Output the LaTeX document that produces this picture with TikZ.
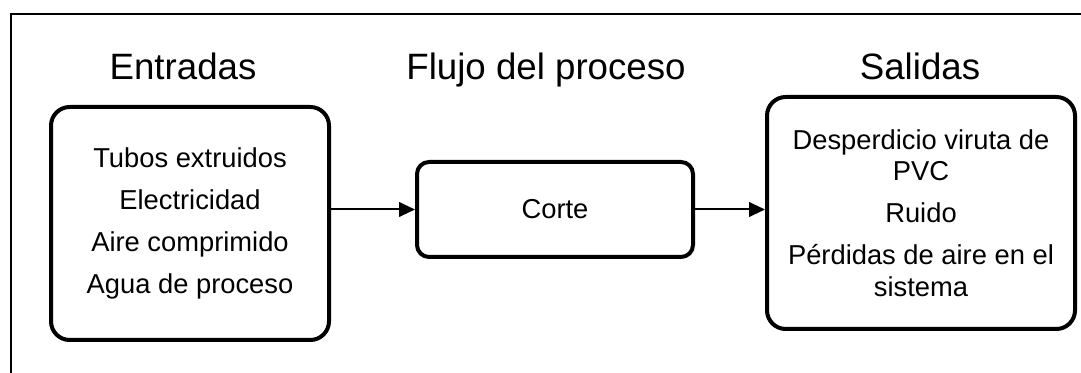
\documentclass[tikz,border=0pt]{standalone}
\usepackage{fontspec}
\setmainfont{Liberation Sans}
\usetikzlibrary{arrows.meta}

\tikzset{
  bigbox/.style={draw, line width=3pt, rounded corners=14pt, align=center,
    font=\fontsize{20.5}{23.6}\selectfont, inner sep=0pt},
  title/.style={anchor=base, font=\fontsize{27.5}{30}\selectfont},
  arr/.style={line width=1.5pt, -{Triangle[length=12pt,width=11pt]}}
}

\begin{document}
\begin{tikzpicture}[x=0.75pt, y=-0.75pt]
    \useasboundingbox (0,0) rectangle (1081,373);

    % Frame
    \draw[line width=1pt] (11,373) -- (11,14) -- (1081,14);

    % Titles
    \node[title] (t1) at (183,80) {Entradas};
    \node[title] (t2) at (546,80) {Flujo del proceso};
    \node[title] (t3) at (920,80) {Salidas};

    % Boxes
    \node[bigbox, minimum width=208.5pt, minimum height=174.75pt] (ent) at (190,223.5)
      {Tubos extruidos\\[7.9pt] Electricidad\\[7.9pt] Aire comprimido\\[7.9pt] Agua de proceso};
    \node[bigbox, rounded corners=9pt, minimum width=207pt, minimum height=71.25pt] (corte) at (555,209.5) {Corte};
    \node[bigbox, minimum width=231pt, minimum height=174pt] (sal) at (921,213)
      {Desperdicio viruta de\\ PVC\\[7.9pt] Ruido\\[7.9pt] Pérdidas de aire en el\\ sistema};

    % Connectors
    \draw[arr] (corte.west -| ent.east) -- (corte.west);
    \draw[arr] (corte.east) -- (corte.east -| sal.west);
\end{tikzpicture}
\end{document}
